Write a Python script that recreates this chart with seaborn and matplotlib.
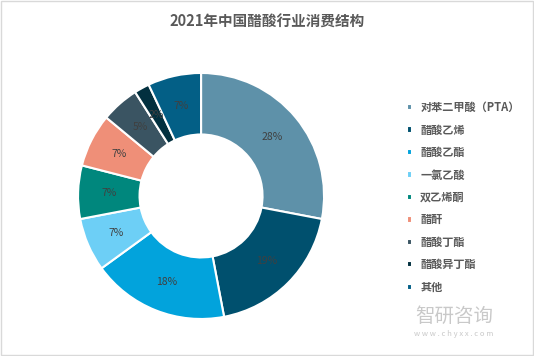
## Donut chart: 2021 China acetic acid consumption structure
import numpy as np
import pandas as pd
import matplotlib
matplotlib.use("Agg")
import matplotlib.pyplot as plt
import seaborn as sns
from matplotlib.patches import Rectangle

## Data
categories = ["对苯二甲酸（PTA）", "醋酸乙烯", "醋酸乙酯", "一氯乙酸", "双乙烯酮",
              "醋酐", "醋酸丁酯", "醋酸异丁酯", "其他"]
shares = [28, 19, 18, 7, 7, 7, 5, 2, 7]
colors = ["#5e91a9", "#00506e", "#02a3dc", "#6dcff6", "#00877d",
          "#ef8f78", "#3a5462", "#02303f", "#035f86"]

sns.set_theme(style="white")
plt.rcParams["font.family"] = ["Noto Sans CJK SC", "DejaVu Sans"]

df = pd.DataFrame({"category": categories, "share": shares})
palette = sns.color_palette(colors)

fig = plt.figure(figsize=(5.34, 3.56), dpi=100)
fig.patch.set_facecolor("white")

# light border around the whole chart
fig.patches.append(Rectangle((0.002, 0.003), 0.996, 0.994, transform=fig.transFigure,
                             fill=False, edgecolor="#d9d9d9", linewidth=1))

ax = fig.add_axes([0.146, 0.104, 0.461, 0.691])
wedges, texts, autotexts = ax.pie(
    df["share"], colors=palette, startangle=90, counterclock=False,
    autopct=lambda p: f"{p:.0f}%", pctdistance=0.75,
    wedgeprops=dict(width=0.5, edgecolor="white", linewidth=1.5),
    textprops=dict(fontsize=7.5, color="#404040"))
ax.set_aspect("equal")
ax.set_xlim(-1, 1)
ax.set_ylim(-1, 1)

fig.text(0.5, 0.94, "2021年中国醋酸行业消费结构", ha="center", va="center",
         fontsize=10.5, fontweight="bold", color="#595959")

leg = fig.legend(wedges, df["category"], loc="upper left",
                 bbox_to_anchor=(0.762, 0.716), frameon=False,
                 fontsize=8, handlelength=0.5, handleheight=0.5,
                 handletextpad=0.7, labelspacing=0.85, borderpad=0, borderaxespad=0)
for t in leg.get_texts():
    t.set_color("#595959")
    t.set_fontweight("bold")

# watermark
fig.text(0.85, 0.112, "智研咨询", ha="center", va="center", fontsize=14,
         color="#c9c9c9")
fig.text(0.85, 0.063, "w w w . c h y x x . c o m", ha="center", va="center",
         fontsize=5.5, color="#c9c9c9")

plt.savefig("out.png", dpi=100)
